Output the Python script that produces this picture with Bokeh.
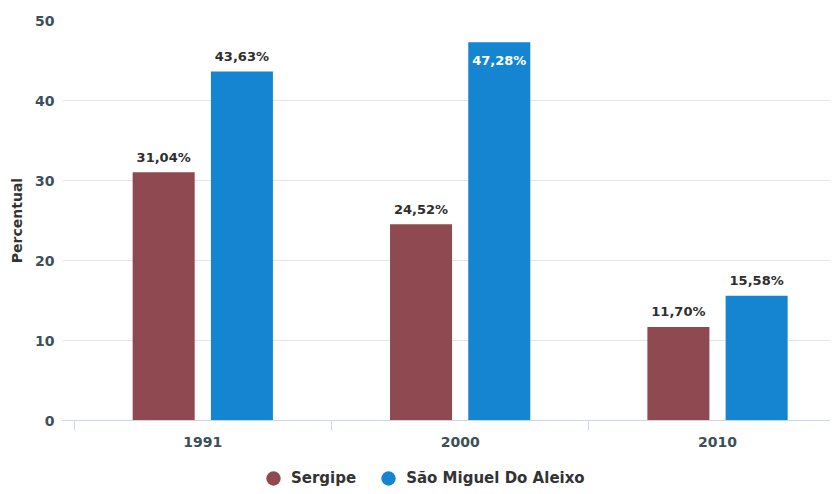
from bokeh.plotting import figure
from bokeh.layouts import column
from bokeh.models import (ColumnDataSource, Range1d, FixedTicker, LabelSet,
                          Legend, LegendItem)
from bokeh.core.properties import value
from bokeh.transform import dodge
from bokeh.embed import file_html
from bokeh.resources import INLINE

# ---- data ----
years = ["1991", "2000", "2010"]
sergipe = [31.04, 24.52, 11.70]
sao_miguel = [43.63, 47.28, 15.58]
series_names = ["Sergipe", "São Miguel Do Aleixo"]
y_ticks = [0, 10, 20, 30, 40, 50]
y_axis_title = "Percentual"

colors = ["#8f4a51", "#1585d1"]
FONT = "DejaVu Sans"

idx = list(range(len(years)))

p = figure(width=830, height=462, output_backend="svg", toolbar_location=None,
           x_range=Range1d(-0.549, 2.439), y_range=Range1d(0, 50),
           min_border_left=61, min_border_right=0, min_border_top=20,
           min_border_bottom=42)
p.outline_line_color = None
p.background_fill_color = "white"
p.border_fill_color = "white"

# legend strip below the chart
leg = figure(width=830, height=32, output_backend="svg", toolbar_location=None,
             x_range=Range1d(0, 1), y_range=Range1d(0, 1),
             x_axis_location=None, y_axis_location=None,
             min_border_left=0, min_border_right=0, min_border_top=0,
             min_border_bottom=0)
leg.outline_line_color = None
leg.xgrid.visible = False
leg.ygrid.visible = False

offset = 0.152
bar_w = 0.241
series = [sergipe, sao_miguel]
offsets = [-offset, offset]
legend_items = []
for vals, name, col, off in zip(series, series_names, colors, offsets):
    lab = [f"{v:.2f}".replace(".", ",") + "%" for v in vals]
    inside = [v > 45 for v in vals]
    src = ColumnDataSource(dict(x=idx, top=vals, label=lab))
    p.vbar(x=dodge("x", off, range=p.x_range), top="top", width=bar_w,
           source=src, fill_color=col, line_color=None)
    out_src = ColumnDataSource(dict(
        x=[i for i, f in zip(idx, inside) if not f],
        y=[v for v, f in zip(vals, inside) if not f],
        label=[t for t, f in zip(lab, inside) if not f]))
    in_src = ColumnDataSource(dict(
        x=[i for i, f in zip(idx, inside) if f],
        y=[v for v, f in zip(vals, inside) if f],
        label=[t for t, f in zip(lab, inside) if f]))
    p.add_layout(LabelSet(x=dodge("x", off, range=p.x_range), y="y", text="label",
                          source=out_src, y_offset=15, text_align="center",
                          text_baseline="middle", text_font=value(FONT),
                          text_font_style="bold", text_font_size="13px",
                          text_color="#2e2e2e"))
    p.add_layout(LabelSet(x=dodge("x", off, range=p.x_range), y="y", text="label",
                          source=in_src, y_offset=-18, text_align="center",
                          text_baseline="middle", text_font=value(FONT),
                          text_font_style="bold", text_font_size="13px",
                          text_color="white"))
    # legend carrier (no visible point, only its legend swatch)
    r = leg.scatter(x=[float("nan")], y=[float("nan")], marker="circle", size=10,
                    fill_color=col, line_color=None)
    legend_items.append(LegendItem(label=name, renderers=[r]))

# y axis
p.yaxis.ticker = FixedTicker(ticks=y_ticks)
p.yaxis.axis_line_color = None
p.yaxis.major_tick_line_color = None
p.yaxis.minor_tick_line_color = None
p.yaxis.major_tick_in = 0
p.yaxis.major_tick_out = 0
p.yaxis.major_label_standoff = 7
p.yaxis.major_label_text_font = FONT
p.yaxis.major_label_text_font_style = "bold"
p.yaxis.major_label_text_font_size = "14px"
p.yaxis.major_label_text_color = "#3d4f58"
p.yaxis.axis_label = y_axis_title
p.yaxis.axis_label_text_font = FONT
p.yaxis.axis_label_text_font_style = "bold"
p.yaxis.axis_label_text_font_size = "14px"
p.yaxis.axis_label_text_color = "#333333"
p.yaxis.axis_label_standoff = 7

# x axis
p.xaxis.ticker = FixedTicker(ticks=idx,
                             minor_ticks=[i - 0.5 for i in idx] + [idx[-1] + 0.5])
p.xaxis.major_label_overrides = {i: y for i, y in zip(idx, years)}
p.xaxis.axis_line_color = "#ccd6eb"
p.xaxis.major_tick_line_color = None
p.xaxis.major_tick_in = 0
p.xaxis.major_tick_out = 0
p.xaxis.minor_tick_in = 0
p.xaxis.minor_tick_out = 10
p.xaxis.minor_tick_line_color = "#ccd6eb"
p.xaxis.major_label_standoff = 6
p.xaxis.major_label_text_font = FONT
p.xaxis.major_label_text_font_style = "bold"
p.xaxis.major_label_text_font_size = "14px"
p.xaxis.major_label_text_color = "#3d4f58"

p.xgrid.visible = False
p.ygrid.ticker = FixedTicker(ticks=y_ticks)
p.ygrid.grid_line_color = "#e6e6e6"

legend = Legend(items=legend_items, location=(194, -2), orientation="horizontal",
                border_line_color=None, background_fill_alpha=0, padding=0,
                margin=0, glyph_width=36, glyph_height=36, label_standoff=0,
                spacing=14, label_text_font=FONT, label_text_font_style="bold",
                label_text_font_size="15px", label_text_color="#333333")
leg.add_layout(legend)

layout = column(p, leg, spacing=0)
open("out.html", "w").write(file_html(layout, INLINE))
